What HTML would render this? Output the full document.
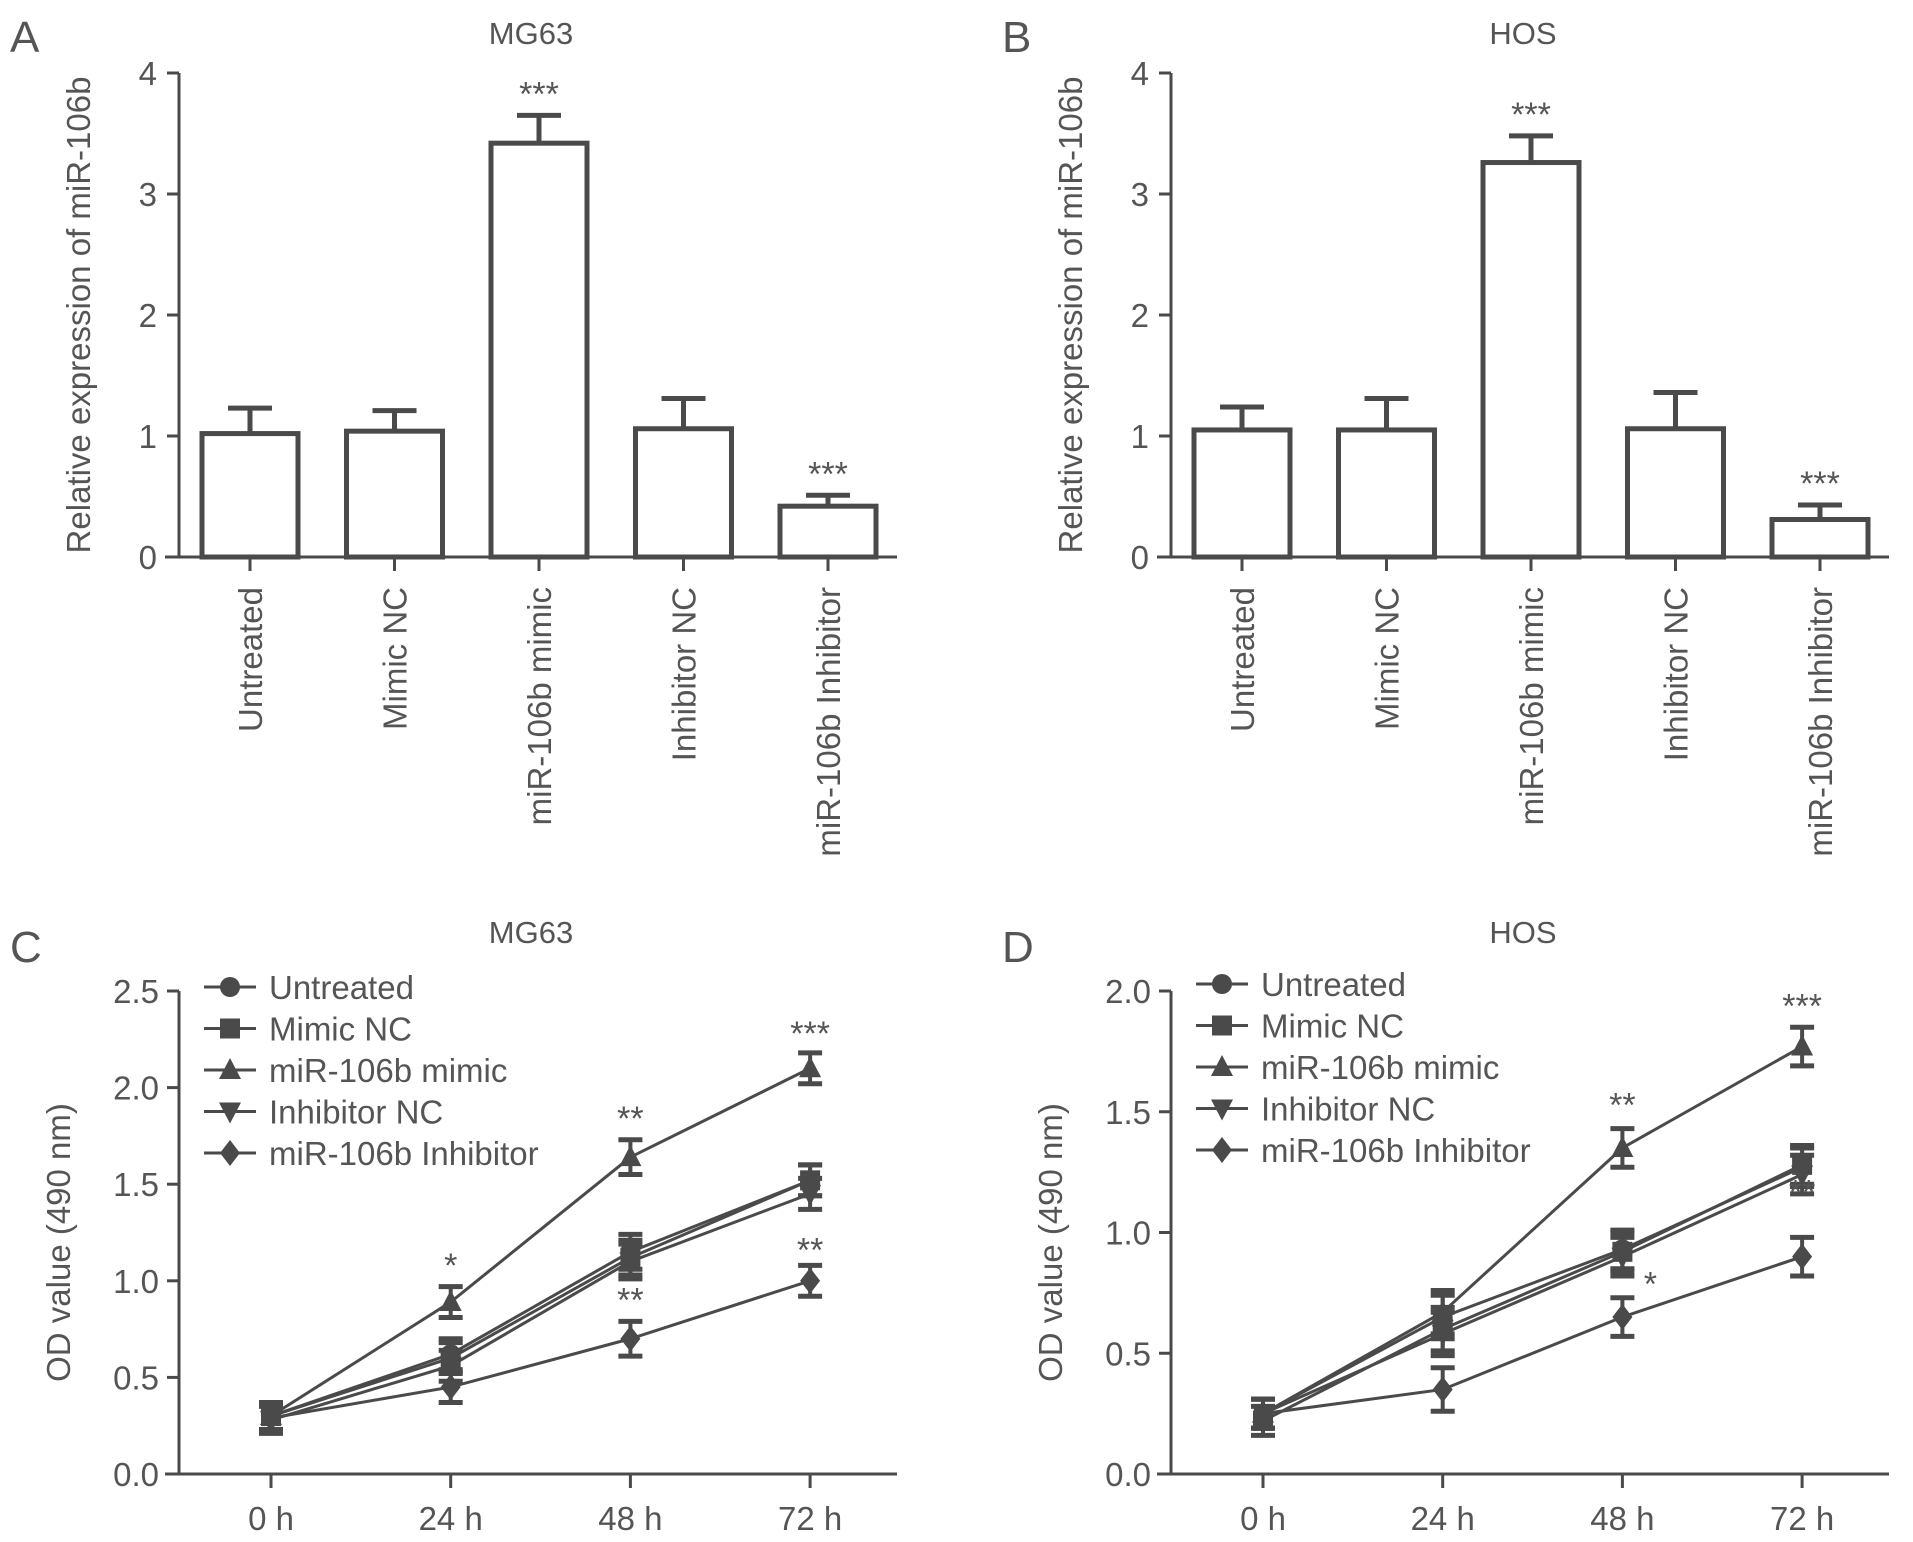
<!DOCTYPE html>
<html><head><meta charset="utf-8"><style>
body{margin:0;background:#fff}
svg{display:block}
text{font-family:"Liberation Sans",sans-serif;fill:#555}
</style></head><body>
<svg id="fig" width="1913" height="1542" viewBox="0 0 1913 1542" xmlns="http://www.w3.org/2000/svg"></svg>
<script>
const barCats = ["Untreated","Mimic NC","miR-106b mimic","Inhibitor NC","miR-106b Inhibitor"];
const barA = [1.02,1.04,3.42,1.06,0.42];
const errA = [0.21,0.17,0.23,0.25,0.09];
const starA = ["","","***","","***"];
const barB = [1.05,1.05,3.26,1.06,0.31];
const errB = [0.19,0.26,0.22,0.30,0.12];
const starB = ["","","***","","***"];
const barTicks = [0,1,2,3,4];

const timeCats = ["0 h","24 h","48 h","72 h"];
const seriesNames = ["Untreated","Mimic NC","miR-106b mimic","Inhibitor NC","miR-106b Inhibitor"];
const markers = ["circle","square","up","down","diamond"];
const C_untreated = [0.30,0.62,1.15,1.52];
const C_mimicNC = [0.30,0.60,1.12,1.52];
const C_mimic = [0.30,0.89,1.64,2.10];
const C_inhNC = [0.28,0.56,1.10,1.45];
const C_inh = [0.29,0.45,0.70,1.00];
const C_err = [0.07,0.08,0.09,0.08];
const C_ticks = [0.0,0.5,1.0,1.5,2.0,2.5];
const C_stars = [{s:1,i:1,t:"*",v:1.02},{s:2,i:2,t:"**",v:1.78},{s:2,i:3,t:"***",v:2.22},{s:4,i:2,t:"**",v:0.84},{s:4,i:3,t:"**",v:1.10}];
const D_untreated = [0.25,0.65,0.93,1.27];
const D_mimicNC = [0.22,0.60,0.92,1.28];
const D_mimic = [0.25,0.67,1.35,1.77];
const D_inhNC = [0.25,0.58,0.90,1.24];
const D_inh = [0.25,0.35,0.65,0.90];
const D_err = [0.06,0.09,0.08,0.08];
const D_ticks = [0.0,0.5,1.0,1.5,2.0];
const D_stars = [{s:2,i:2,t:"**",v:1.48},{s:2,i:3,t:"***",v:1.89},{s:4,i:2,t:"*",v:0.74,dx:28},{s:4,i:3,t:"**",v:1.12}];

const NS="http://www.w3.org/2000/svg";
const svg=document.getElementById('fig');
const G="#4a4a4a";
const FS=33;
function el(tag,attrs,parent,txt){const e=document.createElementNS(NS,tag);for(const k in attrs)e.setAttribute(k,attrs[k]);if(txt!==undefined)e.textContent=txt;(parent||svg).appendChild(e);return e;}

function barPanel(ox, letter, title, vals, errs, stars){
  const g=el('g',{});
  
  
  const y0=557, unit=121, ax=ox+179, xEnd=ox+897;
  const y=v=>y0-v*unit;
  const cx=i=>ox+250+i*144.5;
  const t1=el('text',{x:ox+10,y:52,'font-size':44},g,letter);
  
  
  const t2=el('text',{x:ox+531,y:44,'font-size':31,'text-anchor':'middle'},g,title);
  
  
  const yt=el('text',{transform:`translate(${ox+90},${y(2)}) rotate(-90)`,'font-size':FS,'text-anchor':'middle'},g,'Relative expression of miR-106b');
  
  
  el('line',{x1:ax,y1:y(4),x2:ax,y2:y0,stroke:G,'stroke-width':3},g);
  el('line',{x1:ax-14,y1:y0,x2:xEnd,y2:y0,stroke:G,'stroke-width':3},g);
  barTicks.forEach(t=>{
    el('line',{x1:ax-12,y1:y(t),x2:ax,y2:y(t),stroke:G,'stroke-width':3},g);
    const tl=el('text',{x:ax-22,y:y(t)+12,'font-size':FS,'text-anchor':'end'},g,t);
    
    
  });
  vals.forEach((v,i)=>{
    const x=cx(i);
    el('line',{x1:x,y1:y(v),x2:x,y2:y(v+errs[i]),stroke:G,'stroke-width':5},g);
    el('line',{x1:x-22,y1:y(v+errs[i]),x2:x+22,y2:y(v+errs[i]),stroke:G,'stroke-width':5},g);
    const r=el('rect',{x:x-48,y:y(v),width:96,height:y0-y(v),fill:'#fff',stroke:G,'stroke-width':5},g);
    
    
    el('line',{x1:x,y1:y0,x2:x,y2:y0+14,stroke:G,'stroke-width':3},g);
    if(stars[i]){const s=el('text',{x:x,y:y(v+errs[i])-10,'font-size':34,'text-anchor':'middle'},g,stars[i]);
      
      }
    const cl=el('text',{transform:`translate(${x+12},${y0+30}) rotate(-90)`,'font-size':FS,'text-anchor':'end'},g,barCats[i]);
    
    
  });
}
barPanel(0,'A','MG63',barA,errA,starA);
barPanel(992,'B','HOS',barB,errB,starB);

function marker(g,type,x,y,s){
  if(type==='circle')return el('circle',{cx:x,cy:y,r:s,fill:G},g);
  if(type==='square')return el('rect',{x:x-s,y:y-s,width:2*s,height:2*s,fill:G},g);
  if(type==='up')return el('polygon',{points:`${x},${y-s*1.2} ${x-s*1.1},${y+s*0.9} ${x+s*1.1},${y+s*0.9}`,fill:G},g);
  if(type==='down')return el('polygon',{points:`${x},${y+s*1.2} ${x-s*1.1},${y-s*0.9} ${x+s*1.1},${y-s*0.9}`,fill:G},g);
  return el('polygon',{points:`${x},${y-s*1.3} ${x+s},${y} ${x},${y+s*1.3} ${x-s},${y}`,fill:G},g);
}

function linePanel(ox, letter, title, series, err, ticks, ymax, stars){
  const g=el('g',{});
  
  
  const y0=1474, yTop=991, ax=ox+179, xEnd=ox+897;
  const y=v=>y0-(v/ymax)*(y0-yTop);
  const x=i=>ox+271+i*179.7;
  const t1=el('text',{x:ox+10,y:962,'font-size':44},g,letter);
  
  
  const t2=el('text',{x:ox+531,y:943,'font-size':31,'text-anchor':'middle'},g,title);
  
  
  const yt=el('text',{transform:`translate(${ox+70},${(y0+yTop)/2+10}) rotate(-90)`,'font-size':FS,'text-anchor':'middle'},g,'OD value (490 nm)');
  
  
  el('line',{x1:ax,y1:yTop,x2:ax,y2:y0,stroke:G,'stroke-width':3},g);
  el('line',{x1:ax-14,y1:y0,x2:xEnd,y2:y0,stroke:G,'stroke-width':3},g);
  ticks.forEach(t=>{
    el('line',{x1:ax-12,y1:y(t),x2:ax,y2:y(t),stroke:G,'stroke-width':3},g);
    const tl=el('text',{x:ax-20,y:y(t)+12,'font-size':FS,'text-anchor':'end'},g,t.toFixed(1));
    
    
  });
  timeCats.forEach((c,i)=>{
    el('line',{x1:x(i),y1:y0,x2:x(i),y2:y0+14,stroke:G,'stroke-width':3},g);
    const tl=el('text',{x:x(i),y:y0+56,'font-size':FS,'text-anchor':'middle'},g,c);
    
    
  });
  series.forEach((vals,s)=>{
    const sg=el('g',{},g);
    
    
    el('polyline',{points:vals.map((v,i)=>x(i)+','+y(v)).join(' '),fill:'none',stroke:G,'stroke-width':3},sg);
    vals.forEach((v,i)=>{
      const e=err[i];
      el('line',{x1:x(i),y1:y(v-e),x2:x(i),y2:y(v+e),stroke:G,'stroke-width':4},sg);
      el('line',{x1:x(i)-12,y1:y(v-e),x2:x(i)+12,y2:y(v-e),stroke:G,'stroke-width':5},sg);
      el('line',{x1:x(i)-12,y1:y(v+e),x2:x(i)+12,y2:y(v+e),stroke:G,'stroke-width':5},sg);
      const m=marker(sg,markers[s],x(i),y(v),10);
      
      
    });
  });
  stars.forEach(st=>{
    const s=el('text',{x:x(st.i)+(st.dx||0),y:y(st.v),'font-size':34,'text-anchor':'middle'},g,st.t);
    
    
  });
  seriesNames.forEach((n,s)=>{
    const ly=(letter==='C'?987:984)+s*41.5;
    const lg=el('g',{},g);
    
    
    el('line',{x1:ox+204,y1:ly,x2:ox+256,y2:ly,stroke:G,'stroke-width':3},lg);
    marker(lg,markers[s],ox+230,ly,10);
    el('text',{x:ox+269,y:ly+12,'font-size':FS},lg,n);
  });
}
linePanel(0,'C','MG63',[C_untreated,C_mimicNC,C_mimic,C_inhNC,C_inh],C_err,C_ticks,2.5,C_stars);
linePanel(992,'D','HOS',[D_untreated,D_mimicNC,D_mimic,D_inhNC,D_inh],D_err,D_ticks,2.0,D_stars);
</script>
</body></html>
